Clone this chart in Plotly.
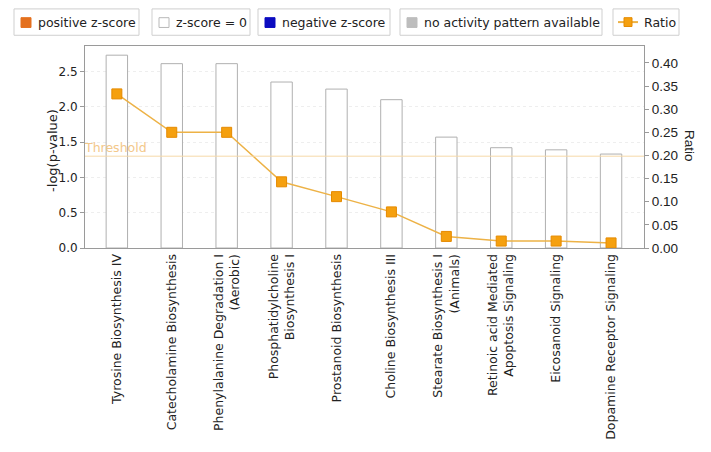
import plotly.graph_objects as go

# 資料
pathways = [
    "Tyrosine Biosynthesis IV",
    "Catecholamine Biosynthesis",
    "Phenylalanine Degradation I<br>(Aerobic)",
    "Phosphatidylcholine<br>Biosynthesis I",
    "Prostanoid Biosynthesis",
    "Choline Biosynthesis III",
    "Stearate Biosynthesis I<br>(Animals)",
    "Retinoic acid Mediated<br>Apoptosis Signaling",
    "Eicosanoid Signaling",
    "Dopamine Receptor Signaling",
]
neg_log_p = [2.73, 2.61, 2.61, 2.35, 2.25, 2.10, 1.57, 1.42, 1.39, 1.33]
ratio = [0.333, 0.25, 0.25, 0.143, 0.111, 0.078, 0.025, 0.015, 0.015, 0.011]
threshold = 1.3

legend_labels = ["positive z-score", "z-score = 0", "negative z-score",
                 "no activity pattern available", "Ratio"]

FONT = "DejaVu Sans"
OFF = 8  # 頁面 body 預設 8px 邊距
W, H = 711 - OFF, 452 - OFF
L, R, T, B = 85, 644, 46, 253  # 參考圖中的繪圖區（像素）


def px(x):
    return (x - L) / (R - L)


def py(y):
    return (B - y) / (B - T)


fig = go.Figure()

fig.add_trace(
    go.Bar(
        x=list(range(len(pathways))),
        y=neg_log_p,
        width=0.39,
        marker=dict(color="white", line=dict(color="#b0b0b0", width=1)),
        showlegend=False,
        hoverinfo="y",
    )
)

fig.add_trace(
    go.Scatter(
        x=list(range(len(pathways))),
        y=ratio,
        yaxis="y2",
        mode="lines+markers",
        line=dict(color="#EDB246", width=1.5),
        marker=dict(symbol="square", size=10, color="#F5A00F",
                    line=dict(color="#E58A00", width=1)),
        showlegend=False,
    )
)

# threshold
fig.add_shape(type="line", xref="paper", x0=0, x1=1, yref="y",
              y0=threshold, y1=threshold,
              line=dict(color="#F6D9A8", width=1))
fig.add_annotation(x=0, xref="paper", xanchor="left", y=threshold, yref="y",
                   yanchor="bottom", yshift=-1, xshift=-3, text="Threshold",
                   showarrow=False,
                   font=dict(family=FONT, size=12.5, color="#F3C88A"))

# 圖例方塊
boxes = [(14, 139), (152, 250), (258, 390), (400, 602), (613, 679)]
swatches = [
    dict(fill="#E4701E", edge="#E4701E"),
    dict(fill="white", edge="#b8b8b8"),
    dict(fill="#0B0BC0", edge="#0B0BC0"),
    dict(fill="#BDBDBD", edge="#BDBDBD"),
    None,
]
by0, by1 = 8, 35
for label, (bx0, bx1), sw in zip(legend_labels, boxes, swatches):
    fig.add_shape(type="rect", xref="paper", yref="paper",
                  x0=px(bx0), x1=px(bx1), y0=py(by1), y1=py(by0),
                  line=dict(color="#cfcfcf", width=1), fillcolor="white")
    if sw is not None:
        fig.add_shape(type="rect", xref="paper", yref="paper",
                      x0=px(bx0 + 7), x1=px(bx0 + 17), y0=py(27), y1=py(17),
                      line=dict(color=sw["edge"], width=1), fillcolor=sw["fill"])
        tx = bx0 + 22
    else:
        fig.add_shape(type="line", xref="paper", yref="paper",
                      x0=px(bx0 + 5), x1=px(bx0 + 25), y0=py(21.5), y1=py(21.5),
                      line=dict(color="#EDB246", width=2))
        fig.add_shape(type="rect", xref="paper", yref="paper",
                      x0=px(bx0 + 11), x1=px(bx0 + 19), y0=py(26), y1=py(17),
                      line=dict(color="#E58A00", width=1), fillcolor="#F5A00F")
        tx = bx0 + 29
    fig.add_annotation(x=px(tx), y=py(21.5), xref="paper", yref="paper",
                       xanchor="left", yanchor="middle", text=label, showarrow=False,
                       font=dict(family=FONT, size=12.5, color="#222"))

# 軸標題
fig.add_annotation(x=px(43), y=py(153), xref="paper", yref="paper",
                   text="-log(p-value)", textangle=-90, showarrow=False,
                   font=dict(family=FONT, size=13, color="#222"))
fig.add_annotation(x=px(699), y=py(148), xref="paper", yref="paper",
                   text="Ratio", textangle=90, showarrow=False,
                   font=dict(family="Liberation Sans", size=13.5, color="#222"))

fig.update_layout(
    width=W,
    height=H,
    margin=dict(l=L - OFF, r=711 - R, t=T - OFF, b=452 - B),
    paper_bgcolor="white",
    plot_bgcolor="white",
    showlegend=False,
    xaxis=dict(
        range=[-0.58, 9.6],
        tickmode="array",
        tickvals=list(range(len(pathways))),
        ticktext=pathways,
        tickangle=-90,
        tickfont=dict(family=FONT, size=12.5, color="#222"),
        showgrid=False,
        showline=True,
        linecolor="#9a9a9a",
        mirror=True,
        ticks="",
        zeroline=False,
    ),
    yaxis=dict(
        range=[0, 2.86],
        dtick=0.5,
        tickformat=".1f",
        ticks="outside",
        ticklen=4,
        tickcolor="#9a9a9a",
        tickfont=dict(family=FONT, size=12, color="#222"),
        showline=True,
        linecolor="#9a9a9a",
        showgrid=True,
        gridcolor="#eeeeee",
        griddash="dot",
        zeroline=False,
    ),
    yaxis2=dict(
        range=[0, 0.4365],
        dtick=0.05,
        tickformat=".2f",
        overlaying="y",
        side="right",
        ticks="outside",
        ticklen=4,
        tickcolor="#9a9a9a",
        tickfont=dict(family="Liberation Sans", size=13.5, color="#222"),
        showline=True,
        linecolor="#9a9a9a",
        showgrid=False,
        zeroline=False,
    ),
)

fig.write_html("out.html")
